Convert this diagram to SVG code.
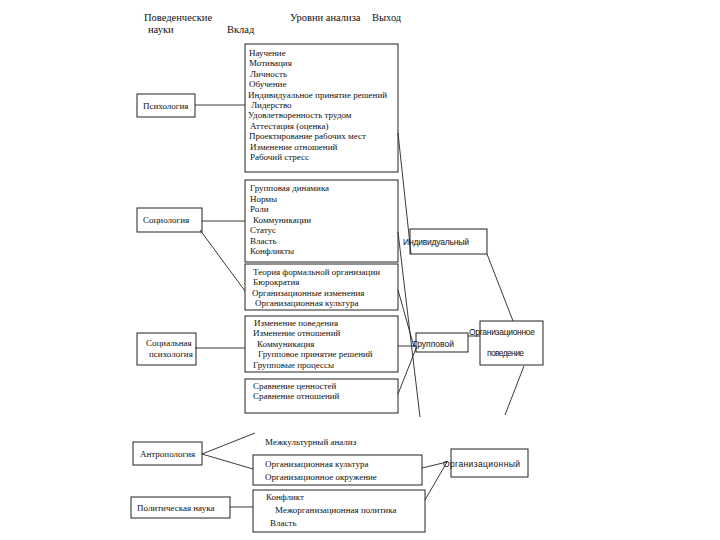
<svg xmlns="http://www.w3.org/2000/svg" width="720" height="540" viewBox="0 0 720 540">
<style>
.t{font-family:"Liberation Serif","Times New Roman",serif;font-size:9px;fill:#111}
.h{font-family:"Liberation Serif","Times New Roman",serif;font-size:10.5px;fill:#111}
.s{font-family:"Liberation Sans",Arial,sans-serif;font-size:8.5px;fill:#111}
.box{fill:none;stroke:#222;stroke-width:1}
.ln{fill:none;stroke:#222;stroke-width:0.9}
</style>
<rect width="720" height="540" fill="#fff"/>
<g id="header">
<text class="h" x="144" y="21">Поведенческие</text>
<text class="h" x="148" y="33">науки</text>
<text class="h" x="227" y="33">Вклад</text>
<text class="h" x="290" y="21">Уровни анализа</text>
<text class="h" x="372" y="21">Выход</text>
</g>
<g id="connectors">
<line class="ln" x1="195" y1="105" x2="245" y2="105"/>
<line class="ln" x1="202" y1="221" x2="245" y2="221" stroke="#555"/>
<line class="ln" x1="200" y1="230" x2="245" y2="291"/>
<line class="ln" x1="195" y1="348" x2="245" y2="348"/>
<line class="ln" x1="398" y1="133" x2="411" y2="254"/>
<line class="ln" x1="398" y1="232" x2="420" y2="417"/>
<line class="ln" x1="398" y1="290" x2="414" y2="347"/>
<line class="ln" x1="398" y1="346" x2="416" y2="346"/>
<line class="ln" x1="398" y1="394" x2="417" y2="346"/>
<line class="ln" x1="487" y1="254" x2="513" y2="321"/>
<line class="ln" x1="468" y1="336" x2="480" y2="336"/>
<line class="ln" x1="524" y1="366" x2="505" y2="415"/>
<line class="ln" x1="202" y1="454" x2="255" y2="433"/>
<line class="ln" x1="202" y1="454" x2="253" y2="469"/>
<line class="ln" x1="230" y1="507" x2="253" y2="507"/>
<line class="ln" x1="422" y1="468" x2="447" y2="462"/>
<line class="ln" x1="425" y1="500" x2="447" y2="462"/>
</g>
<g id="psych">
<rect class="box" x="137" y="94" width="58" height="23"/>
<text class="t" x="143" y="109">Психология</text>
</g>
<g id="psych-items">
<rect class="box" x="245" y="44" width="153" height="128"/>
<text class="t" x="249" y="56">Научение</text>
<text class="t" x="249" y="66.4">Мотивация</text>
<text class="t" x="250" y="76.8">Личность</text>
<text class="t" x="249" y="87.2">Обучение</text>
<text class="t" x="248" y="97.6">Индивидуальное принятие решений</text>
<text class="t" x="251" y="108">Лидерство</text>
<text class="t" x="248" y="118.4">Удовлетворенность трудом</text>
<text class="t" x="250" y="128.8">Аттестация (оценка)</text>
<text class="t" x="249" y="139.2">Проектирование рабочих мест</text>
<text class="t" x="250" y="149.6">Изменение отношений</text>
<text class="t" x="250" y="160">Рабочий стресс</text>
</g>
<g id="socio">
<rect class="box" x="137" y="208" width="65" height="24"/>
<text class="t" x="143" y="223">Социология</text>
</g>
<g id="socio-items">
<rect class="box" x="245" y="180" width="153" height="82"/>
<text class="t" x="250" y="191">Групповая динамика</text>
<text class="t" x="250" y="201.5">Нормы</text>
<text class="t" x="250" y="212">Роли</text>
<text class="t" x="253" y="222.5">Коммуникации</text>
<text class="t" x="250" y="233">Статус</text>
<text class="t" x="250" y="243.5">Власть</text>
<text class="t" x="250" y="254">Конфликты</text>
</g>
<g id="org-items">
<rect class="box" x="245" y="264" width="153" height="46"/>
<text class="t" x="253" y="275">Теория формальной организации</text>
<text class="t" x="253" y="285">Бюрократия</text>
<text class="t" x="252" y="295.5">Организационные изменения</text>
<text class="t" x="255" y="305.5">Организационная культура</text>
</g>
<g id="socpsych">
<rect class="box" x="137" y="333" width="59" height="32"/>
<text class="t" x="146" y="346">Социальная</text>
<text class="t" x="149" y="357">психология</text>
</g>
<g id="socpsych-items">
<rect class="box" x="245" y="316" width="153" height="56"/>
<text class="t" x="254" y="326">Изменение поведения</text>
<text class="t" x="253" y="336">Изменение отношений</text>
<text class="t" x="257" y="346.5">Коммуникация</text>
<text class="t" x="258" y="357">Групповое принятие решений</text>
<text class="t" x="253" y="367.5">Групповые процессы</text>
</g>
<g id="compare-items">
<rect class="box" x="245" y="379" width="153" height="34"/>
<text class="t" x="253" y="389">Сравнение ценностей</text>
<text class="t" x="253" y="399">Сравнение отношений</text>
</g>
<g id="individual">
<rect class="box" x="410" y="229" width="77" height="25"/>
<text class="s" x="403" y="245" textLength="66">Индивидуальный</text>
</g>
<g id="group">
<rect class="box" x="416" y="333" width="52" height="19"/>
<text class="s" x="413" y="347" textLength="41">Групповой</text>
</g>
<g id="orgbehavior">
<rect class="box" x="480" y="321" width="63" height="44"/>
<text class="s" x="469" y="335" textLength="66">Организационное</text>
<text class="s" x="487" y="356" textLength="37">поведение</text>
</g>
<g id="anthro">
<rect class="box" x="133" y="442" width="69" height="23"/>
<text class="t" x="140" y="457">Антропология</text>
</g>
<text class="t" x="265" y="445">Межкультурный анализ</text>
<g id="anthro-items">
<rect class="box" x="253" y="455" width="169" height="30"/>
<text class="t" x="265" y="467">Организационная культура</text>
<text class="t" x="265" y="480">Организационное окружение</text>
</g>
<g id="polit">
<rect class="box" x="131" y="497" width="99" height="21"/>
<text class="t" x="137" y="511">Политическая  наука</text>
</g>
<g id="polit-items">
<rect class="box" x="253" y="490" width="172" height="42"/>
<text class="t" x="266" y="500">Конфликт</text>
<text class="t" x="275" y="513">Межорганизационная политика</text>
<text class="t" x="270" y="526">Власть</text>
</g>
<g id="organization">
<rect class="box" x="451" y="449" width="77" height="28"/>
<text class="s" x="443" y="467" textLength="77">Организационный</text>
</g>
</svg>
